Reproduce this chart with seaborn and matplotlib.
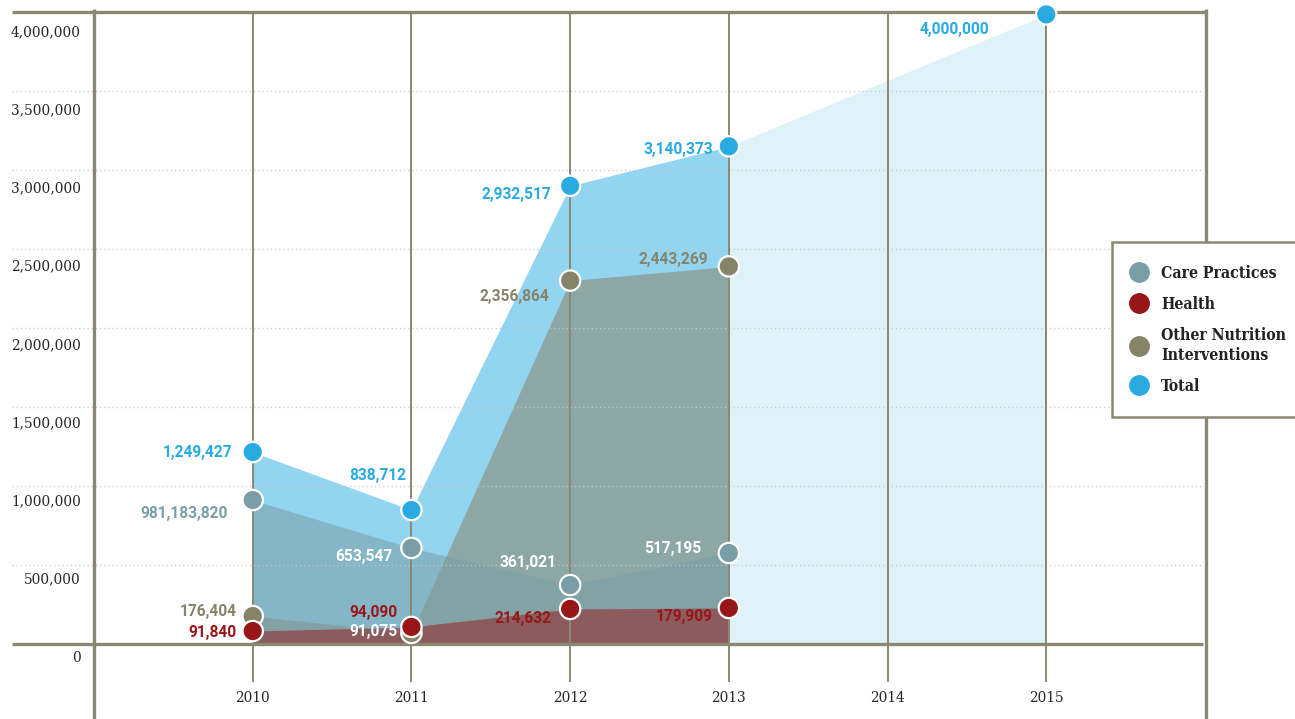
import numpy as np
import pandas as pd
import matplotlib
matplotlib.use("Agg")
import matplotlib.pyplot as plt
import matplotlib.transforms as mtransforms
from matplotlib.lines import Line2D
import seaborn as sns

# ---------------- data ----------------
years = [2010, 2011, 2012, 2013]
total = [1215000, 848000, 2900000, 3150000]
care = [911000, 608000, 373000, 576000]
health = [82000, 108000, 222000, 228000]
other = [177000, 70000, 2300000, 2390000]
target_years = [2013, 2015]
target = [3150000, 3985000]

total_labels = ["1,249,427", "838,712", "2,932,517", "3,140,373"]
target_labels = ["", "4,000,000"]
care_labels = ["981,183,820", "653,547", "361,021", "517,195"]
health_labels = ["91,840", "94,090", "214,632", "179,909"]
other_labels = ["176,404", "91,075", "2,356,864", "2,443,269"]

x_ticks = [2010, 2011, 2012, 2013, 2014, 2015]
y_ticks = [0, 500000, 1000000, 1500000, 2000000, 2500000, 3000000, 3500000, 4000000]
legend_names = ["Care Practices", "Health", "Other Nutrition\nInterventions", "Total"]

# ---------------- styles ----------------
OLIVE = "#8a8871"
C_TOTAL = "#29abe2"
C_CARE = "#7a9ea6"
C_OTHER = "#878369"
C_HEALTH = "#981518"

# label offsets in pixels (dx to right edge, dy downward)
off_total = [(-20, 0), (-5, -35), (-19, 9), (-16, 3)]
off_target = [(0, 0), (-57, 15)]
off_care = [(-25, 13), (-19, 9), (-14, -23), (-27, -4)]
off_health = [(-16, 1), (-14, -14), (-19, 10), (-16, 9)]
off_other = [(-16, -5), (-14, -1), (-21, 16), (-21, -7)]
col_care_lab = [C_CARE, "white", "white", "white"]
col_other_lab = [C_OTHER, "white", C_OTHER, C_OTHER]

sns.set_style("white")
plt.rcParams["font.family"] = ["DejaVu Serif", "DejaVu Sans"]

fig = plt.figure(figsize=(12.95, 7.19), dpi=100)
W, H = 1295, 719
ax = fig.add_axes([94 / W, (H - 644) / H, 1111 / W, 632 / H])
ax.set_xlim(2009, 2016)
ax.set_ylim(0, 4000000)
for s in ax.spines.values():
    s.set_visible(False)

# areas
ax.fill_between(years, 0, total, color=C_TOTAL, alpha=0.5, lw=0, zorder=1)
ax.fill_between(target_years, 0, target, color=C_TOTAL, alpha=0.15, lw=0, zorder=1)
ax.fill_between(years, 0, other, color=C_OTHER, alpha=0.55, lw=0, zorder=1.2)
ax.fill_between(years, 0, care, color=C_CARE, alpha=0.55, lw=0, zorder=1.3)
ax.fill_between(years, 0, health, color=C_HEALTH, alpha=0.5, lw=0, zorder=1.4)

# gridlines (dotted) extending left of axes
ytr = ax.get_yaxis_transform()
for v in y_ticks[1:-1]:
    ax.plot([-82 / 1111, 1109 / 1111], [v, v], transform=ytr, clip_on=False,
            color="#c6c6c6", lw=1.0, ls=(0, (0.8, 2.2)), zorder=2.5)

# frame lines
ax.plot([-82 / 1111, 1112 / 1111], [1, 1], transform=ax.transAxes, clip_on=False,
        color=OLIVE, lw=2.4, zorder=4, solid_capstyle="butt")
ax.plot([-82 / 1111, 1109 / 1111], [0, 0], transform=ytr, clip_on=False,
        color=OLIVE, lw=2.4, zorder=4, solid_capstyle="butt")
for xa in [0, 1112 / 1111]:
    ax.plot([xa, xa], [-75 / 632, 1.004], transform=ax.transAxes, clip_on=False,
            color=OLIVE, lw=2.4, zorder=4, solid_capstyle="butt")

# year lines
for xv in x_ticks:
    ax.axvline(xv, color=OLIVE, lw=1.4, zorder=3)

ax.set_xticks(x_ticks)
ax.set_xticklabels([str(x) for x in x_ticks])
ax.tick_params(axis="x", length=27.5, width=1.4, color=OLIVE, pad=6.5,
               labelsize=11, labelcolor="#262626", direction="out", bottom=True)
for lab in ax.get_xticklabels():
    lab.set_fontstretch("condensed")
ax.set_yticks([])

# y labels, shifted below their gridlines
for v in y_ticks:
    frac = v / 4000000
    off = 14 + 6 * frac
    tr = ytr + mtransforms.ScaledTranslation(-13 / 100, -off / 100, fig.dpi_scale_trans)
    ax.text(0, v, f"{v:,}", transform=tr, ha="right", va="center",
            fontsize=11, color="#262626", fontstretch="condensed")

# points
df = pd.concat([
    pd.DataFrame({"year": years, "value": total, "series": "Total"}),
    pd.DataFrame({"year": target_years[1:], "value": target[1:], "series": "Total"}),
    pd.DataFrame({"year": years, "value": care, "series": "Care Practices"}),
    pd.DataFrame({"year": years, "value": other, "series": "Other"}),
    pd.DataFrame({"year": years, "value": health, "series": "Health"}),
], ignore_index=True)
sns.scatterplot(data=df, x="year", y="value", hue="series",
                palette={"Total": C_TOTAL, "Care Practices": C_CARE,
                         "Other": C_OTHER, "Health": C_HEALTH},
                s=215, edgecolor="white", linewidth=1.6, legend=False,
                zorder=5, clip_on=False, ax=ax)
ax.set_xlabel("")
ax.set_ylabel("")


def put_labels(xs, vals, labels, offs, colors):
    for x, v, lab, (dx, dy), c in zip(xs, vals, labels, offs, colors):
        if not lab:
            continue
        ax.annotate(lab, xy=(x, v), xytext=(dx, -dy), textcoords="offset pixels",
                    ha="right", va="center", color=c, fontsize=11.2,
                    fontweight="bold", family=["Roboto", "DejaVu Sans"],
                    zorder=6, annotation_clip=False)


put_labels(years, total, total_labels, off_total, [C_TOTAL] * 4)
put_labels(target_years, target, target_labels, off_target, [C_TOTAL] * 2)
put_labels(years, care, care_labels, off_care, col_care_lab)
put_labels(years, health, health_labels, off_health, [C_HEALTH] * 4)
put_labels(years, other, other_labels, off_other, col_other_lab)

# legend
handles = [Line2D([], [], ls="", marker="o", markersize=14, markerfacecolor=c,
                  markeredgecolor=c) for c in [C_CARE, C_HEALTH, C_OTHER, C_TOTAL]]
leg = fig.legend(handles, legend_names, loc="upper left",
                 bbox_to_anchor=(1112 / W, 1 - 242 / H), bbox_transform=fig.transFigure,
                 frameon=True, fancybox=False, framealpha=1, facecolor="white",
                 edgecolor=OLIVE, borderpad=1.45, borderaxespad=0, handlelength=0.57,
                 handletextpad=1.1, labelspacing=0.9,
                 prop={"family": "DejaVu Serif", "weight": "bold", "size": 11.3,
                       "stretch": "condensed"})
leg.get_frame().set_linewidth(1.8)
for t in leg.get_texts():
    t.set_color("#222222")

fig.savefig("out.png", dpi=100, facecolor="white")
